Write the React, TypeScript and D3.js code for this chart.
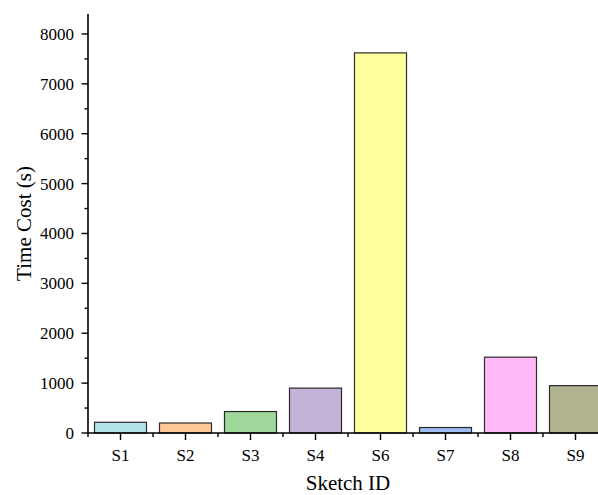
import React from "react";
import * as d3 from "d3";

const categories = ["S1", "S2", "S3", "S4", "S6", "S7", "S8", "S9"];
const values = [215, 200, 430, 900, 7620, 110, 1520, 950];
const colors = ["#b3e3e9", "#ffc898", "#a0d89c", "#c3b3d8", "#ffff9e", "#9dbcf0", "#ffb8f8", "#b1b391"];
const yMajorTicks = [0, 1000, 2000, 3000, 4000, 5000, 6000, 7000, 8000];
const yMinorTicks = [500, 1500, 2500, 3500, 4500, 5500, 6500, 7500];
const xTitle = "Sketch ID";
const yTitle = "Time Cost (s)";

const W = 598;
const H = 495;
const left = 88;
const right = 608;
const top = 14;
const bottom = 433;
const font = "'Liberation Serif', 'Times New Roman', serif";

export default function App() {
  const x = d3.scaleBand<string>().domain(categories).range([left, right]).paddingInner(0.2).paddingOuter(0.1);
  const xb = d3.scaleBand<string>().domain(categories).range([left, right]);
  const y = d3.scaleLinear().domain([0, 8400]).range([bottom, top]);
  const bounds = categories.map((c) => xb(c)!).concat([right]);

  return (
    <div style={{ position: "absolute", left: 0, top: 0 }}>
      <svg width={W} height={H} style={{ display: "block", background: "#fff" }}>
        {categories.map((c, i) => (
          <rect
            key={c}
            x={x(c)!}
            y={y(values[i])}
            width={x.bandwidth()}
            height={bottom - y(values[i])}
            fill={colors[i]}
            stroke="#2a2a2a"
            strokeWidth={1.2}
          />
        ))}
        {/* Y axis */}
        <line x1={left} x2={left} y1={top} y2={bottom + 1} stroke="#000" strokeWidth={1.6} />
        {yMajorTicks.map((t) => (
          <g key={"ym" + t}>
            <line x1={left - 6.5} x2={left} y1={y(t)} y2={y(t)} stroke="#000" strokeWidth={1.4} />
            <text x={left - 14} y={y(t)} dy="0.35em" textAnchor="end" fontFamily={font} fontSize={17}>
              {t}
            </text>
          </g>
        ))}
        {yMinorTicks.map((t) => (
          <line key={"yn" + t} x1={left - 3.5} x2={left} y1={y(t)} y2={y(t)} stroke="#000" strokeWidth={1.4} />
        ))}
        {/* X axis */}
        <line x1={left - 1} x2={right} y1={bottom} y2={bottom} stroke="#000" strokeWidth={1.6} />
        {categories.map((c) => {
          const cx = xb(c)! + xb.bandwidth() / 2;
          return (
            <g key={"xm" + c}>
              <line x1={cx} x2={cx} y1={bottom} y2={bottom + 7} stroke="#000" strokeWidth={1.4} />
              <text x={cx} y={461} textAnchor="middle" fontFamily={font} fontSize={17}>
                {c}
              </text>
            </g>
          );
        })}
        {bounds.map((b, i) => (
          <line key={"xn" + i} x1={b} x2={b} y1={bottom} y2={bottom + 4} stroke="#000" strokeWidth={1.4} />
        ))}
        <text x={(left + right) / 2} y={490} textAnchor="middle" fontFamily={font} fontSize={21}>
          {xTitle}
        </text>
        <text
          transform={`translate(31,${(top + bottom) / 2}) rotate(-90)`}
          textAnchor="middle"
          fontFamily={font}
          fontSize={21}
        >
          {yTitle}
        </text>
      </svg>
    </div>
  );
}
